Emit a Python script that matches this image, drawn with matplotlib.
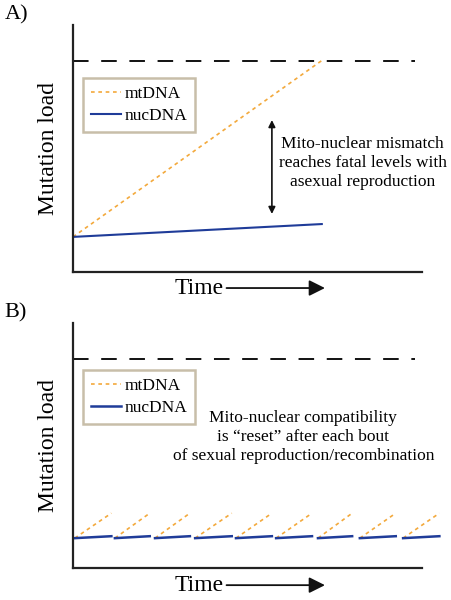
import matplotlib.pyplot as plt
import numpy as np

plt.rcParams['font.family'] = ['Liberation Serif', 'DejaVu Serif']

# panel A: asexual reproduction
time_a = [0.0, 7.13]
mt_a = [1.42, 8.56]
nuc_a = [1.42, 1.94]
threshold = 8.55
threshold_span = [0.0, 9.8]
gap_arrow_x = 5.7
gap_arrow_y = [2.35, 6.15]

# panel B: resets after each bout of sex / recombination
seg_start = [0.05, 1.2, 2.35, 3.5, 4.67, 5.82, 7.02, 8.22, 9.46]
seg_end = [1.1, 2.2, 3.35, 4.55, 5.7, 6.85, 8.0, 9.25, 10.5]
seg_base = 1.22
seg_mt_top = 2.24
seg_nuc_top = 1.3

MT_COLOR = '#f3a93c'
NUC_COLOR = '#1f3c99'
FRAME_COLOR = '#c8bea9'

fig = plt.figure(figsize=(4.52, 6.0), dpi=100)
ax_a = fig.add_axes([0.1615, 0.5467, 0.772, 0.4117])
ax_b = fig.add_axes([0.1615, 0.0533, 0.772, 0.408])


def style_axes(ax, time_y):
    ax.set_xlim(0, 10)
    ax.set_ylim(0, 10)
    for side in ['top', 'right']:
        ax.spines[side].set_visible(False)
    for side in ['left', 'bottom']:
        ax.spines[side].set_linewidth(1.6)
        ax.spines[side].set_color('#222222')
    ax.set_xticks([])
    ax.set_yticks([])
    ax.set_ylabel('Mutation load', fontsize=17, labelpad=10)
    ax.plot(threshold_span, [threshold, threshold], color='#111111', lw=1.4,
            dashes=(8, 6.5))
    ax.annotate('', xy=(7.22, time_y), xytext=(4.4, time_y), xycoords='data',
                arrowprops=dict(arrowstyle='-|>', color='#111111', lw=1.3,
                                mutation_scale=24, shrinkA=0, shrinkB=0),
                annotation_clip=False)
    ax.text(4.32, time_y, 'Time', fontsize=17, ha='right', va='center',
            clip_on=False)


def add_legend(ax, y_anchor):
    leg = ax.legend(loc='upper left', bbox_to_anchor=(0.03, y_anchor),
                    borderaxespad=0, fontsize=12.5, handlelength=1.7,
                    handletextpad=0.2, labelspacing=0.35, borderpad=0.45,
                    fancybox=False, framealpha=1)
    leg.get_frame().set_edgecolor(FRAME_COLOR)
    leg.get_frame().set_linewidth(1.8)


style_axes(ax_a, -0.65)
ax_a.plot(time_a, mt_a, color=MT_COLOR, lw=1.2, dashes=(2.2, 2.2), label='mtDNA')
ax_a.plot(time_a, nuc_a, color=NUC_COLOR, lw=1.5, label='nucDNA')
ax_a.annotate('', xy=(gap_arrow_x, gap_arrow_y[0]), xytext=(gap_arrow_x, gap_arrow_y[1]),
              arrowprops=dict(arrowstyle='<|-|>', color='#111111', lw=1.2,
                              mutation_scale=10, shrinkA=0, shrinkB=0))
ax_a.text(8.3, 4.41, 'Mito-nuclear mismatch\nreaches fatal levels with\nasexual reproduction',
          fontsize=12.5, ha='center', va='center', linespacing=1.22, clip_on=False)
add_legend(ax_a, 0.785)

style_axes(ax_b, -0.7)
for i, (s, e) in enumerate(zip(seg_start, seg_end)):
    ax_b.plot([s, e], [seg_base, seg_mt_top], color=MT_COLOR, lw=1.2,
              dashes=(2.2, 2.2), clip_on=False, label='mtDNA' if i == 0 else None)
    ax_b.plot([s, e], [seg_base, seg_nuc_top], color=NUC_COLOR, lw=1.8,
              clip_on=False, label='nucDNA' if i == 0 else None)
ax_b.text(6.6, 5.35, 'Mito-nuclear compatibility\nis \u201creset\u201d after each bout\nof sexual reproduction/recombination',
          fontsize=12.5, ha='center', va='center', linespacing=1.22, clip_on=False)
add_legend(ax_b, 0.808)

fig.text(0.01, 0.975, 'A)', fontsize=16, ha='left', va='center')
fig.text(0.01, 0.478, 'B)', fontsize=16, ha='left', va='center')

fig.savefig('out.png', dpi=100)
